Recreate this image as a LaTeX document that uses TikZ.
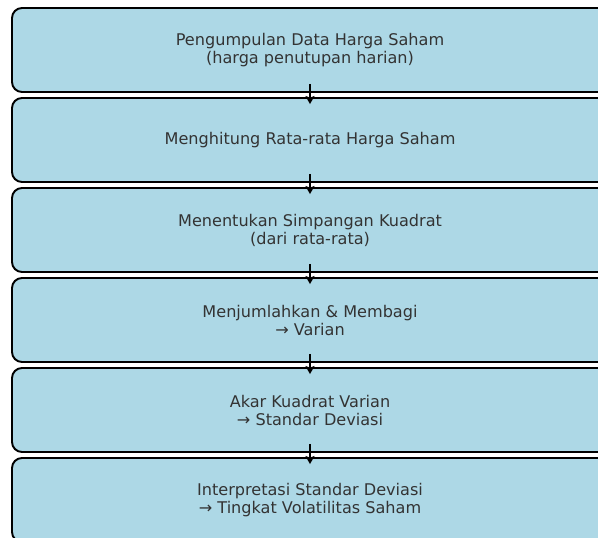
\documentclass[tikz,border=0pt]{standalone}
\usepackage{fontspec}
\setmainfont{DejaVu Sans}
\definecolor{boxblue}{RGB}{173,216,230}
\definecolor{txtgray}{RGB}{51,51,51}
\tikzset{
  stepbox/.style={draw, rounded corners=10pt, line width=1.9pt, fill=boxblue,
    minimum width=596pt, minimum height=84pt, align=center, text=txtgray,
    font=\fontsize{16.1pt}{18pt}\selectfont},
  flow/.style={draw, line width=2.3pt, -{Stealth[length=8pt,width=9pt,inset=1.5pt]}}
}
\usetikzlibrary{arrows.meta}
\begin{document}
\begin{tikzpicture}[x=1pt,y=-1pt]
\useasboundingbox (0,0) rectangle (598,538);
\node[stepbox] (1) at (310,50) {Pengumpulan Data Harga Saham\\(harga penutupan harian)};
\node[stepbox] (2) at (310,140) {Menghitung Rata-rata Harga Saham};
\node[stepbox] (3) at (310,230) {Menentukan Simpangan Kuadrat\\(dari rata-rata)};
\node[stepbox] (4) at (310,320) {Menjumlahkan \& Membagi\\→ Varian};
\node[stepbox] (5) at (310,410) {Akar Kuadrat Varian\\→ Standar Deviasi};
\node[stepbox] (6) at (310,500) {Interpretasi Standar Deviasi\\→ Tingkat Volatilitas Saham};

\path[flow] ([yshift=9pt]1.south) -- ([yshift=-7pt]2.north);
\path[flow] ([yshift=9pt]2.south) -- ([yshift=-7pt]3.north);
\path[flow] ([yshift=9pt]3.south) -- ([yshift=-7pt]4.north);
\path[flow] ([yshift=9pt]4.south) -- ([yshift=-7pt]5.north);
\path[flow] ([yshift=9pt]5.south) -- ([yshift=-7pt]6.north);
\end{tikzpicture}
\end{document}
